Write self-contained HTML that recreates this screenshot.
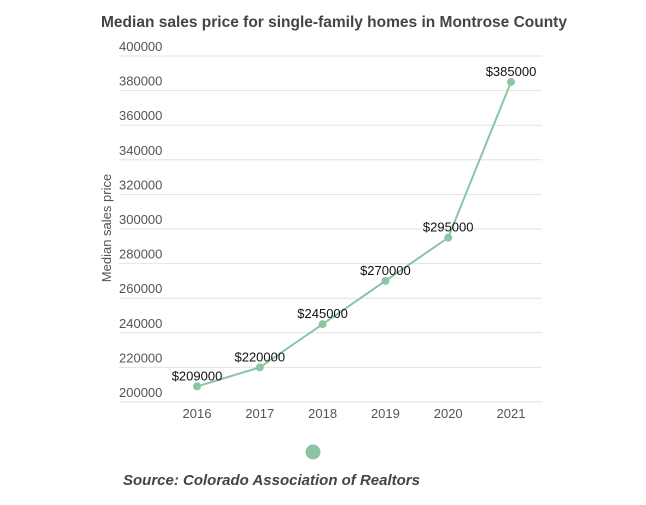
<!DOCTYPE html>
<html><head><meta charset="utf-8"><style>
body{margin:0;background:#fff;font-family:"Liberation Sans",sans-serif}
svg text{font-family:"Liberation Sans",sans-serif}
</style></head><body>
<svg width="646" height="500">
<text x="334" y="27" text-anchor="middle" font-size="15.5" font-weight="bold" fill="#444">Median sales price for single-family homes in Montrose County</text>
<text transform="translate(111,228) rotate(-90)" text-anchor="middle" font-size="13" fill="#555">Median sales price</text>
<g id="grid"></g><g id="xt"></g><g id="series"></g>
<circle cx="313" cy="452" r="7.5" fill="#8cc5a3"/>
<text x="123" y="485" font-size="15" font-weight="bold" font-style="italic" fill="#444">Source: Colorado Association of Realtors</text>
</svg>
<script>
const categories=["2016","2017","2018","2019","2020","2021"];
const values=[209000,220000,245000,270000,295000,385000];
const yTicks=[200000,220000,240000,260000,280000,300000,320000,340000,360000,380000,400000];
const NS="http://www.w3.org/2000/svg";
const y=v=>402-(v-200000)/200000*346;
const x=i=>197+i*62.8;
function mk(t,a,p){const e=document.createElementNS(NS,t);for(const k in a)e.setAttribute(k,a[k]);p.appendChild(e);return e;}
const g=document.getElementById('grid');
yTicks.forEach(v=>{
 const l=mk('line',{x1:119,x2:542,y1:y(v),y2:y(v),stroke:'#e2e2e2','stroke-width':1},g);
 
 
 const t=mk('text',{x:119,y:y(v)-5,'font-size':13,fill:'#555'},g);t.textContent=v;
 
 
});
const xt=document.getElementById('xt');
categories.forEach((c,i)=>{
 const t=mk('text',{x:x(i),y:418,'font-size':13,fill:'#555','text-anchor':'middle'},xt);t.textContent=c;
 
 
});
const s=document.getElementById('series');
const pl=mk('polyline',{points:values.map((v,i)=>x(i)+','+y(v)).join(' '),fill:'none',stroke:'#8cc5a3','stroke-width':2},s);


values.forEach((v,i)=>{
 const c=mk('circle',{cx:x(i),cy:y(v),r:4,fill:'#8cc5a3'},s);
 
 
 const t=mk('text',{x:x(i),y:y(v)-6,'font-size':13,fill:'#111','text-anchor':'middle'},s);t.textContent='$'+v;
 
 
});
</script>
</body></html>
